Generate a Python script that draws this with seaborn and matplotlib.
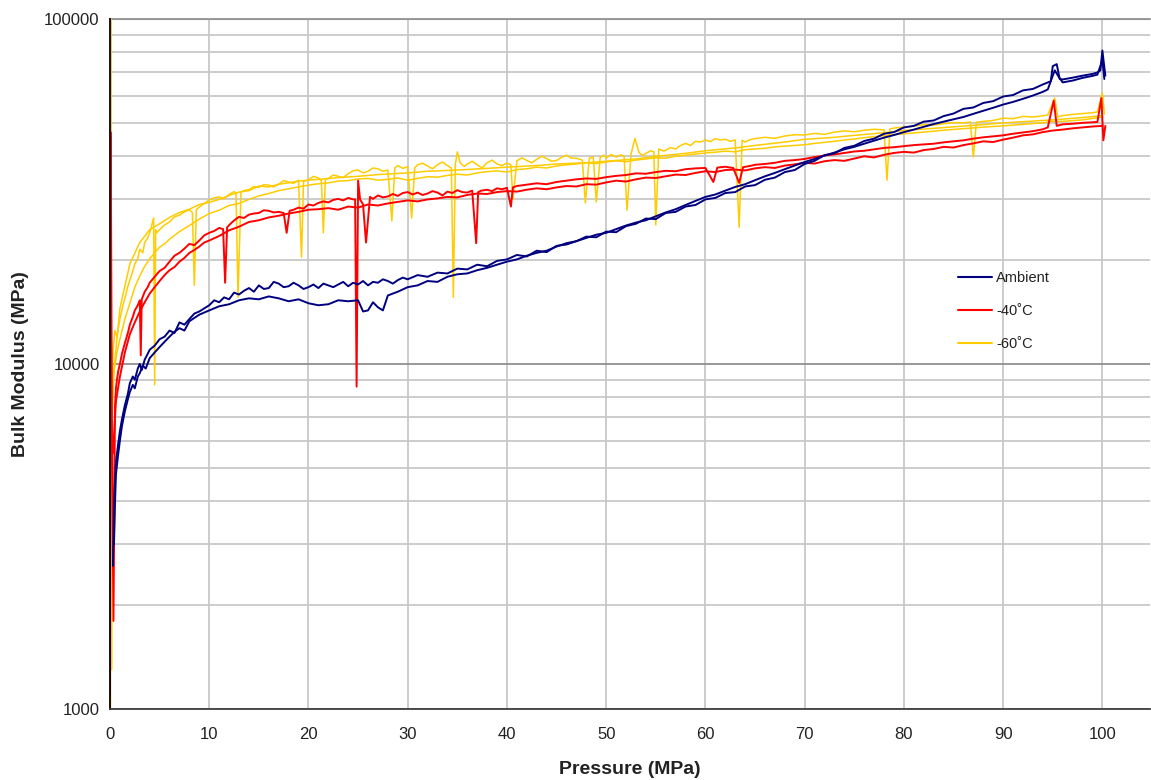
import numpy as np
import pandas as pd
import matplotlib
matplotlib.use("Agg")
import matplotlib.pyplot as plt
from matplotlib.ticker import FixedLocator, NullFormatter, LogLocator
from matplotlib.lines import Line2D
import seaborn as sns

# ---------------- data, (pressure MPa, bulk modulus MPa) ----------------
series_names = ["Ambient", "-40˚C", "-60˚C"]
series_colors = ["#000080", "#FF0000", "#FFCC00"]

ambient_1 = [(0.3, 2600), (0.4, 3800), (0.5, 4500), (0.6, 5200), (0.8, 5800), (1.0, 6400), (1.2, 6900),
             (1.5, 7600), (1.8, 8200), (2.0, 8800), (2.3, 9200), (2.5, 9000), (2.8, 9700), (3.0, 10000),
             (3.2, 9600), (3.5, 10300), (3.8, 10700), (4.0, 11000), (4.5, 11300), (5, 11800), (5.5, 12000),
             (6, 12500), (6.5, 12300), (7, 13200), (7.5, 13000), (8, 13500), (8.5, 14000), (9, 14200),
             (9.5, 14500), (10, 14800), (10.5, 15300), (11, 15100), (11.5, 15600), (12, 15400), (12.5, 16100),
             (13, 15900), (13.5, 16300), (14, 16600), (14.5, 16200), (15, 16900), (15.5, 16500), (16, 16600),
             (16.5, 17300), (17, 17100), (17.5, 16700), (18, 16800), (18.5, 17200), (19, 16900), (19.5, 16500),
             (20, 16700), (20.5, 17000), (21, 16600), (21.5, 17100), (22, 16900), (22.5, 16700), (23, 17000),
             (23.5, 17300), (24, 16800), (24.5, 17200), (25, 17000), (25.5, 17400), (26, 16900), (26.5, 17300),
             (27, 17200), (27.5, 17600), (28, 17400), (28.5, 17100), (29, 17500), (29.5, 17800), (30, 17600),
             (31, 18100), (32, 17900), (33, 18400), (34, 18300), (35, 18900), (36, 18800), (37, 19400),
             (38, 19200), (39, 19900), (40, 20100), (41, 20700), (42, 20500), (43, 21300), (44, 21100),
             (45, 22000), (46, 22200), (47, 22700), (48, 23400), (49, 23300), (50, 24200), (51, 24100),
             (52, 25100), (53, 25500), (54, 26400), (55, 26300), (56, 27400), (57, 27600), (58, 28600),
             (59, 28900), (60, 30000), (61, 30300), (62, 31300), (63, 31500), (64, 32700), (65, 33000),
             (66, 34200), (67, 34700), (68, 36000), (69, 36500), (70, 38000), (71, 38800), (72, 40300),
             (73, 40800), (74, 42300), (75, 42900), (76, 44300), (77, 45000), (78, 46500), (79, 47000),
             (80, 48500), (81, 49000), (82, 50400), (83, 50800), (84, 52300), (85, 53200), (86, 54900),
             (87, 55400), (88, 57100), (89, 57800), (90, 59600), (91, 60200), (92, 62100), (93, 62700),
             (94, 64600), (94.8, 66000), (95.0, 73000), (95.4, 74000), (95.7, 67000), (96, 66800),
             (97, 67600), (98, 68500), (99, 69300), (99.5, 70000), (99.8, 71000), (100, 81000), (100.3, 68500)]

ambient_2 = [(0.4, 3000), (0.5, 3900), (0.6, 4800), (0.8, 5400), (1, 6000), (1.2, 6600), (1.5, 7300),
             (1.8, 7900), (2, 8300), (2.3, 8700), (2.5, 8500), (2.8, 9200), (3, 9400), (3.3, 9900), (3.6, 9700),
             (4, 10400), (4.5, 10800), (5, 11200), (5.5, 11600), (6, 12000), (6.5, 12400), (7, 12700),
             (7.5, 12500), (8, 13300), (8.5, 13600), (9, 13900), (9.5, 14100), (10, 14300), (11, 14700),
             (12, 14900), (13, 15300), (14, 15500), (15, 15400), (16, 15700), (17, 15500), (18, 15200),
             (19, 15400), (20, 15000), (21, 14800), (22, 14900), (23, 15300), (24, 15200), (25, 15300),
             (25.5, 14200), (26, 14300), (26.5, 15100), (27, 14600), (27.5, 14300), (28, 15800), (29, 16200),
             (30, 16700), (31, 16900), (32, 17400), (33, 17300), (34, 17900), (35, 18200), (36, 18300),
             (37, 18700), (38, 19000), (39, 19400), (40, 19800), (41, 20100), (42, 20600), (43, 21000),
             (44, 21300), (45, 21900), (46, 22400), (47, 22700), (48, 23200), (49, 23700), (50, 24000),
             (51, 24600), (52, 25200), (53, 25700), (54, 26100), (55, 26800), (56, 27500), (57, 28100),
             (58, 28900), (59, 29700), (60, 30500), (61, 31000), (62, 31800), (63, 32600), (64, 33200),
             (65, 34100), (66, 35000), (67, 35800), (68, 36700), (69, 37600), (70, 38500), (71, 39300),
             (72, 40200), (73, 41000), (74, 41900), (75, 42600), (76, 43500), (77, 44400), (78, 45300),
             (79, 46100), (80, 47000), (81, 47800), (82, 48700), (83, 49600), (84, 50400), (85, 51200),
             (86, 52000), (87, 53100), (88, 54200), (89, 55300), (90, 56500), (91, 57500), (92, 58700),
             (93, 60000), (94, 61500), (94.5, 62500), (95.2, 71000), (95.6, 68000), (96, 65500), (97, 66300),
             (98, 67500), (99, 68400), (99.5, 69000), (100, 76000), (100.2, 67000)]

minus40_1 = [(0.0, 1100), (0.05, 47000), (0.1, 30000), (0.2, 6000), (0.35, 1800), (0.5, 7500), (0.6, 8500),
             (0.7, 9000), (0.85, 9600), (1, 10000), (1.2, 10700), (1.5, 11500), (1.8, 12300), (2, 13000),
             (2.3, 13700), (2.5, 14300), (2.8, 14800), (3.0, 15300), (3.1, 10600), (3.2, 15400), (3.5, 16200),
             (3.8, 16700), (4, 17200), (4.5, 17900), (5, 18600), (5.5, 19000), (6, 19800), (6.5, 20600),
             (7, 21000), (7.5, 21600), (8, 22300), (8.5, 22100), (9, 22800), (9.5, 23600), (10, 24000),
             (10.5, 24300), (11, 24800), (11.4, 24600), (11.6, 17200), (11.8, 24900), (12.2, 25600),
             (12.6, 26200), (13, 26700), (13.5, 26500), (14, 27100), (14.5, 27300), (15, 27400), (15.5, 27900),
             (16, 27800), (16.5, 27500), (17, 27600), (17.5, 27400), (17.8, 24000), (18.1, 27800), (18.5, 28000),
             (19, 28400), (19.5, 28200), (20, 29000), (20.5, 28800), (21, 29300), (21.5, 29600), (22, 29400),
             (22.5, 29900), (23, 30100), (23.5, 29800), (24, 30300), (24.5, 30000), (24.7, 30000),
             (24.85, 8600), (25, 34000), (25.2, 30000), (25.5, 29000), (25.8, 22500), (26.2, 30500),
             (26.5, 30100), (27, 30800), (27.5, 30400), (28, 30600), (28.5, 31100), (29, 30700), (29.5, 31300),
             (30, 31500), (30.5, 31000), (31, 31400), (31.5, 30900), (32, 31200), (32.5, 31700), (33, 31400),
             (33.5, 30800), (34, 31600), (34.5, 31300), (35, 31900), (35.5, 31500), (36, 31400), (36.5, 31800),
             (36.9, 22400), (37.1, 31500), (37.4, 31800), (38, 32000), (38.5, 31700), (39, 32300),
             (39.5, 32100), (40, 32400), (40.4, 28600), (40.6, 32500), (41, 32800), (42, 33100), (43, 33400),
             (44, 33200), (45, 33700), (46, 34000), (47, 34300), (48, 34500), (49, 34400), (50, 34800),
             (51, 35100), (52, 35300), (53, 35700), (54, 35600), (55, 36000), (56, 36300), (57, 36200),
             (58, 36700), (59, 36900), (60, 37000), (60.8, 33700), (61.2, 37100), (62, 37300), (62.8, 37000),
             (63.4, 33500), (63.8, 37200), (64.5, 37500), (65, 37800), (66, 38000), (67, 38300), (68, 38800),
             (69, 39000), (70, 39300), (71, 39800), (72, 40200), (73, 40500), (74, 40900), (75, 41300),
             (76, 41500), (77, 41900), (78, 42300), (79, 42500), (80, 42800), (81, 43100), (82, 43300),
             (83, 43500), (84, 43900), (85, 44200), (86, 44500), (87, 45000), (88, 45400), (89, 45700),
             (90, 46000), (91, 46500), (92, 46900), (93, 47300), (94, 47900), (94.5, 48500), (95.1, 58000),
             (95.4, 49000), (96, 49500), (97, 49700), (98, 50000), (99, 50200), (99.5, 50300), (99.9, 59000),
             (100.1, 44500), (100.3, 49000)]

minus40_2 = [(0.3, 5500), (0.6, 7800), (1, 9200), (1.5, 10800), (2, 12200), (2.5, 13200), (3, 14200),
             (3.5, 15100), (4, 16000), (4.5, 16700), (5, 17400), (5.5, 18100), (6, 18700), (6.5, 19100),
             (7, 19800), (7.5, 20300), (8, 21000), (8.5, 21400), (9, 21900), (9.5, 22500), (10, 22800),
             (11, 23500), (12, 24400), (13, 25000), (14, 25800), (15, 26100), (16, 26600), (17, 26900),
             (18, 27300), (19, 27600), (20, 28000), (21, 28100), (22, 28300), (23, 28000), (24, 28600),
             (25, 28400), (26, 29000), (27, 28800), (28, 29200), (29, 29500), (30, 29800), (31, 29600),
             (32, 30000), (33, 30200), (34, 30500), (35, 30400), (36, 30900), (37, 31200), (38, 31100),
             (39, 31500), (40, 31700), (41, 31600), (42, 32000), (43, 32300), (44, 32100), (45, 32500),
             (46, 32800), (47, 32700), (48, 33200), (49, 33100), (50, 33600), (51, 34000), (52, 33800),
             (53, 34300), (54, 34700), (55, 34600), (56, 35000), (57, 35400), (58, 35300), (59, 35800),
             (60, 36200), (61, 36000), (62, 36500), (63, 36600), (64, 36400), (65, 36900), (66, 37200),
             (67, 37000), (68, 37600), (69, 37900), (70, 38300), (71, 38100), (72, 38700), (73, 39000),
             (74, 38800), (75, 39400), (76, 40000), (77, 39700), (78, 40400), (79, 40900), (80, 41200),
             (81, 41000), (82, 41700), (83, 42000), (84, 42600), (85, 42400), (86, 43100), (87, 43600),
             (88, 44200), (89, 44000), (90, 44700), (91, 45300), (92, 46000), (93, 46300), (94, 47000),
             (95, 47500), (96, 47800), (97, 48200), (98, 48500), (99, 48800), (100, 49000)]

minus60_1 = [(0.05, 1000), (0.1, 100000), (0.15, 1300), (0.2, 9000), (0.3, 11000), (0.5, 12500), (0.7, 12000),
             (1, 13500), (1.3, 14800), (1.5, 15500), (1.8, 16800), (2, 17500), (2.3, 18600), (2.5, 19500),
             (2.8, 20200), (3, 21500), (3.3, 21000), (3.5, 22500), (3.8, 23200), (4, 24000), (4.4, 26500),
             (4.5, 8700), (4.6, 24500), (4.7, 24000), (5, 24500), (5.5, 25300), (6, 25800), (6.5, 26700),
             (7, 27000), (7.5, 27600), (8, 28000), (8.3, 27500), (8.5, 16900), (8.7, 28000), (9, 28500),
             (9.5, 29200), (10, 29900), (10.5, 30300), (11, 30500), (11.5, 30100), (12, 31000), (12.5, 31600),
             (12.7, 31300), (12.9, 15600), (13.2, 31500), (13.6, 31900), (14, 32000), (14.5, 32700),
             (15, 32500), (15.5, 33100), (16, 33000), (16.5, 32600), (17, 33200), (17.5, 34000), (18, 33700),
             (18.5, 33400), (19, 34100), (19.3, 20400), (19.5, 33800), (20, 34200), (20.5, 35000), (21, 34600),
             (21.3, 34000), (21.5, 24000), (21.7, 34200), (22, 34500), (22.5, 35300), (23, 35000),
             (23.5, 34700), (24, 35600), (24.5, 36300), (25, 36500), (25.5, 35800), (26, 36200), (26.5, 37000),
             (27, 36800), (27.5, 36200), (28, 36500), (28.4, 26000), (28.7, 37000), (29, 37600), (29.5, 36900),
             (30, 37300), (30.4, 26500), (30.7, 37000), (31, 37800), (31.5, 38200), (32, 37500), (32.5, 36800),
             (33, 37800), (33.5, 38500), (34, 37600), (34.4, 37000), (34.6, 15600), (34.8, 38000),
             (35, 41200), (35.3, 38200), (35.7, 37400), (36, 38000), (36.5, 38700), (37, 37800), (37.5, 37000),
             (38, 38300), (38.5, 39000), (39, 38000), (39.5, 37600), (40, 38200), (40.4, 37800), (40.6, 30000),
             (41, 38800), (41.5, 39600), (42, 38900), (42.5, 38300), (43, 39200), (43.5, 40000), (44, 39400),
             (44.5, 38700), (45, 38900), (45.5, 39700), (46, 40300), (46.5, 39500), (47, 39500), (47.6, 39000),
             (47.9, 29300), (48.3, 39500), (48.7, 39800), (49, 29500), (49.4, 39700), (49.8, 40300),
             (50, 39500), (50.5, 40500), (51, 39800), (51.5, 40400), (51.8, 40000), (52.1, 27900),
             (52.5, 40500), (52.9, 45100), (53.3, 41000), (53.7, 40200), (54, 40800), (54.5, 41500),
             (54.8, 41200), (55, 25300), (55.3, 42000), (55.8, 41400), (56.5, 42400), (57, 42000), (57.5, 43000),
             (58, 43600), (58.5, 43000), (59, 44200), (59.5, 44000), (60, 44600), (60.5, 44100), (61, 45000),
             (61.5, 44600), (62, 44800), (62.5, 44200), (63, 44600), (63.4, 24900), (63.7, 44500), (64, 44000),
             (64.5, 44700), (65, 45000), (66, 45400), (67, 45100), (68, 45800), (69, 46200), (70, 46100),
             (71, 46600), (72, 46300), (73, 47000), (74, 47400), (75, 47100), (76, 47600), (77, 47900),
             (78, 47700), (78.3, 34100), (78.6, 48000), (79, 48300), (80, 48600), (81, 48900), (82, 49400),
             (83, 49300), (84, 49700), (85, 50100), (86, 50000), (86.7, 50300), (87, 39800), (87.3, 50200),
             (88, 50500), (89, 50800), (90, 51600), (91, 51400), (92, 52200), (93, 52000), (94, 52400),
             (94.5, 52700), (95.2, 59000), (95.5, 52000), (96, 52500), (97, 52900), (98, 53200), (99, 53500),
             (99.5, 53800), (100, 61000), (100.2, 53000)]

minus60_2 = [(0.2, 7000), (0.4, 9500), (0.7, 10800), (1, 11800), (1.5, 13500), (2, 15000), (2.5, 16700),
             (3, 18000), (3.5, 19200), (4, 20200), (4.5, 21000), (5, 21800), (5.5, 22300), (6, 23000),
             (7, 24200), (8, 25200), (9, 26300), (10, 27300), (11, 27900), (12, 28800), (13, 29200),
             (14, 30000), (15, 30700), (16, 31200), (17, 31800), (18, 32200), (19, 32600), (20, 33000),
             (21, 33300), (22, 33500), (23, 33900), (24, 34000), (25, 34400), (26, 34500), (27, 34100),
             (28, 34300), (29, 34600), (30, 34100), (31, 34500), (32, 34900), (33, 34800), (34, 35200),
             (35, 35500), (36, 35300), (37, 35800), (38, 36100), (39, 36300), (40, 36000), (41, 36600),
             (42, 36800), (43, 37200), (44, 37000), (45, 37500), (46, 37800), (47, 38000), (48, 38300),
             (49, 38100), (50, 38500), (51, 38800), (52, 38600), (53, 39000), (54, 39300), (55, 39600),
             (56, 39500), (57, 40000), (58, 40300), (59, 40600), (60, 40900), (61, 41100), (62, 41400),
             (63, 41200), (64, 41800), (65, 42000), (66, 42200), (67, 42600), (68, 42800), (69, 43000),
             (70, 43200), (71, 43600), (72, 43900), (73, 44200), (74, 44600), (75, 44900), (76, 45300),
             (77, 45600), (78, 45900), (79, 46200), (80, 46500), (82, 47000), (84, 47600), (86, 48100),
             (88, 48600), (90, 49000), (92, 49500), (94, 50000), (95, 50500), (96, 50500), (98, 51000),
             (100, 52000)]

minus60_3 = [(0.3, 9000), (1, 14500), (2, 19500), (3, 22500), (4, 24500), (5, 25500), (6, 26600), (7, 27500),
             (8, 28100), (9, 29000), (10, 29400), (11, 30000), (12, 30800), (13, 31500), (14, 31800),
             (15, 32800), (16, 32600), (17, 33200), (18, 33500), (19, 33900), (21, 34300), (23, 34700),
             (25, 35000), (27, 35400), (30, 35800), (32, 36200), (35, 36500), (38, 36900), (40, 37200),
             (43, 37600), (45, 38000), (48, 38300), (50, 38700), (53, 39300), (55, 40000), (58, 40800),
             (60, 41500), (63, 42300), (65, 43000), (68, 44000), (70, 44800), (73, 45400), (75, 46000),
             (78, 46800), (80, 47500), (83, 48200), (85, 48700), (88, 49400), (90, 50000), (93, 50600),
             (95, 51000), (98, 51800), (100, 52500)]

x_ticks = [0, 10, 20, 30, 40, 50, 60, 70, 80, 90, 100]
y_ticks = [1000, 10000, 100000]

# ---------------- build long-form table ----------------
traces = [
    ("Ambient", "a1", ambient_1), ("Ambient", "a2", ambient_2),
    ("-40˚C", "r1", minus40_1), ("-40˚C", "r2", minus40_2),
    ("-60˚C", "y1", minus60_1), ("-60˚C", "y2", minus60_2), ("-60˚C", "y3", minus60_3),
]
frames = []
for s, t, pts in traces:
    arr = np.array(pts, dtype=float)
    frames.append(pd.DataFrame({"Pressure": arr[:, 0], "Modulus": arr[:, 1], "series": s, "trace": t}))
df = pd.concat(frames, ignore_index=True)

# ---------------- figure ----------------
sns.set_style("white")
plt.rcParams["font.family"] = ["Liberation Sans", "DejaVu Sans"]

fig = plt.figure(figsize=(11.51, 7.80), dpi=100)
ax = fig.add_axes([110 / 1151, 1 - 709 / 780, 1040 / 1151, 690 / 780])

palette = dict(zip(series_names, series_colors))
widths = {"Ambient": 1.4, "-40˚C": 1.4, "-60˚C": 1.1}
for s in ["-60˚C", "-40˚C", "Ambient"]:
    sub = df[df["series"] == s]
    sns.lineplot(data=sub, x="Pressure", y="Modulus", units="trace", estimator=None, sort=False,
                 color=palette[s], linewidth=widths[s], ax=ax, legend=False)

ax.set_yscale("log")
ax.set_xlim(0, 104.8)
ax.set_ylim(1000, 100000)

ax.xaxis.set_major_locator(FixedLocator(x_ticks))
ax.xaxis.set_minor_locator(FixedLocator(list(range(5, 105, 10))))
ax.yaxis.set_major_locator(FixedLocator(y_ticks))
ax.yaxis.set_minor_locator(LogLocator(base=10, subs=np.arange(2, 10)))
ax.yaxis.set_minor_formatter(NullFormatter())
ax.set_yticklabels([str(v) for v in y_ticks])
ax.set_xticklabels([str(v) for v in x_ticks])

ax.grid(True, which="major", axis="x", color="#c8c8c8", linewidth=1.3)
ax.grid(True, which="major", axis="y", color="#909090", linewidth=1.3)
ax.grid(True, which="minor", axis="y", color="#c8c8c8", linewidth=1.3)
ax.set_axisbelow(True)

for side in ["top", "right"]:
    ax.spines[side].set_visible(False)
ax.spines["left"].set_color("#000000")
ax.spines["left"].set_linewidth(1.3)
ax.spines["bottom"].set_color("#404040")
ax.spines["bottom"].set_linewidth(1.3)
ax.axhline(100000, color="#a0a0a0", linewidth=1.5, clip_on=False, zorder=0.5)

ax.tick_params(axis="both", which="major", direction="out", length=5, width=1.2, colors="#222222",
               labelsize=12)
ax.tick_params(axis="y", which="major", pad=2.5)
ax.tick_params(axis="x", which="major", pad=8)
ax.tick_params(axis="x", which="minor", direction="out", length=5, width=1.2, color="#222222")
ax.tick_params(axis="y", which="minor", length=0)

ax.set_xlabel("Pressure (MPa)", fontsize=14, fontweight="bold", color="#222222")
ax.set_ylabel("Bulk Modulus (MPa)", fontsize=14, fontweight="bold", color="#222222")
ax.xaxis.set_label_coords(0.5, -0.075)
ax.yaxis.set_label_coords(-0.078, 0.5)

handles = [Line2D([0], [0], color=c, linewidth=1.5) for c in series_colors]
fig.legend(handles, series_names, loc="upper left", bbox_to_anchor=(945 / 1151, 1 - 258 / 780),
           frameon=False, fontsize=10.5, handlelength=2.3, handletextpad=0.3, labelspacing=1.3,
           labelcolor="#222222")

fig.savefig("out.png", dpi=100)
